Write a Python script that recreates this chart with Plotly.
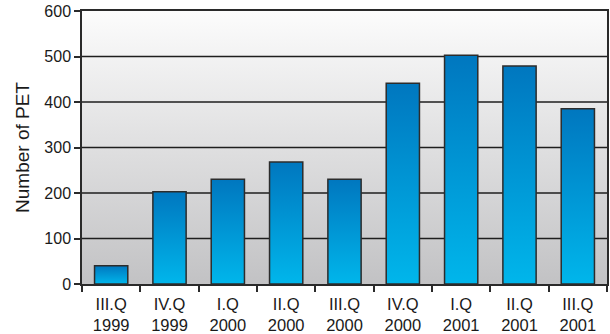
import plotly.graph_objects as go

quarters = ["III.Q", "IV.Q", "I.Q", "II.Q", "III.Q", "IV.Q", "I.Q", "II.Q", "III.Q"]
years = ["1999", "1999", "2000", "2000", "2000", "2000", "2001", "2001", "2001"]
pet_counts = [40, 203, 230, 268, 230, 441, 503, 479, 385]
y_ticks = [0, 100, 200, 300, 400, 500, 600]

labels = [f"{q}<br>{y}" for q, y in zip(quarters, years)]
xs = list(range(len(pet_counts)))
bar_w = 0.57
x_lo, x_hi = -0.5, len(pet_counts) - 0.5
y_lo, y_hi = y_ticks[0], y_ticks[-1]

fig = go.Figure()

# plot-area background gradient
fig.add_trace(go.Scatter(
    x=[x_lo, x_hi, x_hi, x_lo, x_lo], y=[y_lo, y_lo, y_hi, y_hi, y_lo],
    mode="none", fill="toself",
    fillgradient=dict(type="vertical", colorscale=[[0, "#c2c2c4"], [1, "#fcfcfc"]]),
    hoverinfo="skip", showlegend=False))

# grid lines
for t in y_ticks[1:-1]:
    fig.add_trace(go.Scatter(x=[x_lo, x_hi], y=[t, t], mode="lines",
                             line=dict(color="#1e1e1e", width=1.5),
                             hoverinfo="skip", showlegend=False))

# bars: gradient fill + dark outline
for x, v in zip(xs, pet_counts):
    fig.add_trace(go.Scatter(
        x=[x - bar_w / 2, x + bar_w / 2, x + bar_w / 2, x - bar_w / 2, x - bar_w / 2],
        y=[0, 0, v, v, 0], mode="lines", fill="toself",
        line=dict(color="#2c2c2c", width=1.5),
        fillgradient=dict(type="vertical", colorscale=[[0, "#00b6eb"], [1, "#0077bf"]]),
        hovertemplate=f"{v}<extra></extra>", showlegend=False))

fig.update_layout(
    width=610, height=334,
    margin=dict(l=82, r=3, t=11, b=50, autoexpand=False),
    paper_bgcolor="white", plot_bgcolor="white",
    font=dict(family="Liberation Sans, Arial, sans-serif", size=16, color="#1a1a1a"),
    showlegend=False,
)
fig.update_xaxes(
    range=[x_lo, x_hi], tickmode="array", tickvals=xs, ticktext=labels,
    ticks="", showgrid=False, zeroline=False, ticklabelstandoff=4, automargin=False,
    tickfont=dict(size=16.5),
    showline=True, linecolor="#2a2a2a", linewidth=1.5, mirror=True,
    minor=dict(tickmode="array", tickvals=[x_lo + i for i in range(len(xs) + 1)],
               ticks="outside", ticklen=6, tickwidth=1.5, tickcolor="#2a2a2a", showgrid=False),
)
fig.update_yaxes(
    range=[y_lo, y_hi], tickmode="array", tickvals=y_ticks, automargin=False,
    ticks="outside", ticklen=6, tickwidth=1.5, tickcolor="#2a2a2a",
    showgrid=False, zeroline=False,
    showline=True, linecolor="#2a2a2a", linewidth=1.5, mirror=True,
    title=dict(text="Number of PET", standoff=10),
)

fig.write_html("out.html")
